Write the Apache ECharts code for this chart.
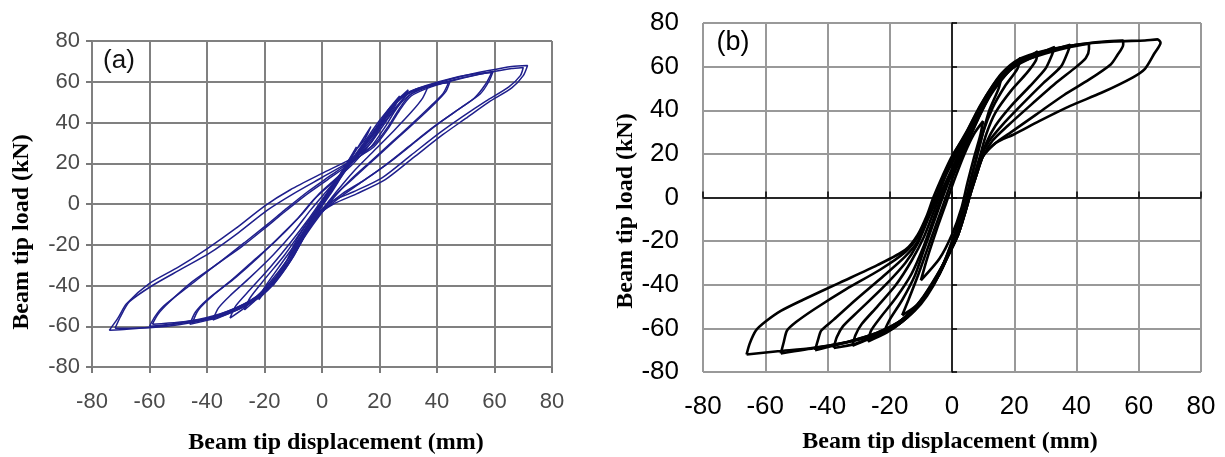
<!DOCTYPE html>
<html>
<head>
<meta charset="utf-8">
<title>Beam tip load vs displacement</title>
<script src="https://cdn.jsdelivr.net/npm/echarts@6/dist/echarts.min.js"></script>
<style>
  html, body { margin: 0; padding: 0; background: #fff; }
  #chart { width: 1225px; height: 457px; }
</style>
</head>
<body>
<div id="chart"></div>
<script>
// tick labels shared by both panels
var tickValues = [-80, -60, -40, -20, 0, 20, 40, 60, 80];

// panel (a): loops, [displacement mm, load kN]
var aLoop72 = [[-74,-62],[-71,-56],[-68,-49],[-60,-39],[-50,-31],[-40,-22],[-30,-12],[-20,-1],[-11,7],[0,15],[10,22],[18,29],[23,38],[27,47],[31,54],[38,58.5],[48,62.5],[58,65.5],[66,67.5],[71.5,68],
  [70,63],[66,57],[58,50],[50,42],[42,34],[32,23],[22,12],[12,5],[4,0],[-2,-6],[-6,-15],[-10,-25],[-15,-35],[-21,-44],[-30,-51],[-42,-57],[-57,-60],[-68,-61.5],[-74,-62]];
var aLoop72b = [[-72,-61],[-70,-55],[-67,-48],[-59,-40],[-49,-32],[-39,-24],[-29,-14],[-19,-3],[-10,5],[0,13],[10,21],[18,28],[23,37],[27,46],[31,53],[38,57.5],[48,61.5],[58,64.5],[66,66.5],[70,67],
  [69,63],[65,57.5],[57,50.5],[49,43],[41,35],[31,24],[21,13],[11,6],[3,1],[-3,-7],[-7,-17],[-11,-27],[-16,-37],[-22,-45],[-31,-52],[-43,-57.5],[-58,-60.5],[-72,-61]];
var aLoop60 = [[-60,-60],[-58,-55],[-55,-50],[-46,-40],[-37,-30],[-28,-21],[-20,-12],[-14,-5],[-6,4],[2,12],[10,20],[17,28],[22,38],[26,47],[30,53],[36,57],[46,61],[54,63.5],[59.5,65],
  [58,60],[55,54],[48,47],[40,39],[32,30],[24,21],[15,12],[7,5],[1,-2],[-4,-10],[-8,-20],[-13,-31],[-19,-41],[-27,-49],[-38,-55],[-50,-58.5],[-60,-60]];
var aLoop60b = [[-59,-59],[-57,-54],[-53,-48],[-45,-38],[-36,-29],[-27,-19],[-19,-10],[-13,-3],[-5,6],[3,14],[10,21],[17,30],[21,40],[25,48],[29,54],[36,58],[46,62],[54,64],[59,64.5],
  [57,59],[53,52],[46,45],[38,37],[30,28],[22,19],[13,10],[6,3],[0,-4],[-5,-13],[-9,-23],[-14,-33],[-20,-43],[-28,-50],[-39,-56],[-50,-58],[-59,-59]];
var aLoop45 = [[-46,-59],[-44,-53],[-40,-47],[-32,-38],[-24,-28],[-16,-18],[-9,-8],[-3,2],[4,11],[11,20],[17,30],[22,40],[26,48],[30,54],[36,57.5],[44.5,60],
  [43,55],[39,49],[33,41],[26,32],[19,23],[12,14],[5,5],[0,-3],[-5,-13],[-10,-25],[-15,-35],[-21,-44],[-28,-51],[-37,-56],[-46,-59]];
var aLoop45b = [[-45,-58],[-43,-52],[-38,-45],[-30,-36],[-22,-26],[-14,-15],[-7,-5],[-1,5],[6,14],[12,23],[18,33],[22,42],[26,50],[31,55],[38,58.5],[44,59.5],
  [42,54],[37,47],[31,39],[24,30],[17,21],[10,12],[4,3],[-1,-6],[-6,-16],[-11,-28],[-16,-38],[-22,-46],[-30,-52],[-38,-56],[-45,-58]];
var aLoop37 = [[-38,-57],[-36,-51],[-32,-45],[-25,-36],[-17,-25],[-10,-14],[-4,-3],[2,7],[8,17],[14,27],[19,37],[23,46],[27,52],[32,56],[37,58],
  [35,52],[31,45],[25,36],[18,26],[11,16],[5,6],[0,-3],[-5,-13],[-10,-26],[-15,-36],[-21,-45],[-28,-51],[-38,-57]];
var aLoop30 = [[-32,-56],[-30,-50],[-25,-42],[-18,-31],[-11,-19],[-5,-8],[0,2],[6,13],[12,24],[18,35],[23,45],[27,52],[30,56],
  [28,51],[24,44],[18,34],[11,22],[5,10],[0,0],[-4,-9],[-9,-21],[-15,-33],[-21,-43],[-27,-51],[-32,-56]];
var aLoop25 = [[-27,-52],[-25,-46],[-20,-37],[-13,-25],[-7,-13],[-2,-3],[3,8],[9,19],[15,31],[20,41],[24,48],[27,53],
  [25,47],[21,40],[15,29],[8,16],[3,5],[-2,-5],[-7,-16],[-12,-29],[-18,-39],[-23,-47],[-27,-52]];
var aLoop20 = [[-22,-47],[-20,-41],[-15,-31],[-9,-19],[-4,-8],[1,3],[7,15],[13,26],[19,38],[24,48],
  [22,43],[17,34],[10,21],[4,9],[-1,-2],[-6,-13],[-11,-25],[-16,-36],[-22,-47]];
var aLoop15 = [[-17,-40],[-15,-34],[-11,-25],[-6,-13],[-1,-2],[4,9],[9,20],[13,29],[17,38],
  [15,32],[11,25],[6,14],[1,3],[-4,-7],[-9,-18],[-13,-30],[-17,-40]];
var aLoop10 = [[-12,-30],[-10,-24],[-6,-15],[-2,-5],[3,6],[7,16],[12,28],
  [10,22],[5,11],[0,0],[-4,-10],[-8,-20],[-12,-30]];
var aLoop5 = [[-7,-18],[-5,-12],[-2,-4],[2,5],[5,11],[7,16],[5,10],[1,2],[-2,-6],[-5,-13],[-7,-18]];

// panel (b)
var bLoop66 = [[-66,-72],[-65,-67],[-63,-61],[-60,-57],[-55,-52],[-48,-47],[-36,-39],[-24,-31],[-15,-24],[-11,-17],[-8,-8],[-6,0],[-3,10],[0,19],[4,28],[8,39],[12,49],[16,57],[21,63],[29,67],[40,70],[52,71.5],[62,72],[66,72.5],
  [67,71],[65,66],[62,59],[58,55],[48,48],[38,42],[28,35],[20,29],[14,25],[10,19],[8,11],[6,2],[4,-8],[2,-17],[-1,-26],[-5,-36],[-9,-45],[-13,-52],[-18,-58],[-25,-63],[-34,-66.5],[-45,-69],[-56,-70.5],[-66,-72]];
var bLoop55 = [[-55,-71.5],[-54,-66],[-53,-61],[-50,-57],[-44,-51],[-34,-42],[-23,-33],[-15,-25],[-11,-18],[-8,-9],[-5,1],[-2,12],[1,21],[5,31],[9,42],[13,51],[17,58],[22,63],[30,67],[40,70],[49,71.5],[55,72],
  [55,70],[53,65],[51,61],[44,54],[36,47],[27,38],[19,30],[14,25],[10,19],[8,11],[6,2],[4,-8],[2,-17],[-1,-26],[-4,-35],[-8,-44],[-12,-51],[-17,-57],[-24,-62],[-33,-66],[-44,-69],[-55,-71.5]];
var bLoop44 = [[-44,-70],[-43,-65],[-42,-61],[-38,-56],[-31,-47],[-22,-36],[-15,-27],[-11,-20],[-8,-10],[-5,0],[-2,11],[1,20],[5,30],[9,41],[13,50],[17,57],[22,62],[30,66],[38,69],[44,70.5],
  [44,68],[43,64],[40,60],[33,52],[25,42],[18,33],[13,26],[10,19],[8,11],[6,2],[4,-8],[2,-17],[-1,-26],[-4,-35],[-8,-44],[-12,-51],[-17,-57],[-24,-62],[-33,-66],[-44,-70]];
var bLoop38 = [[-38,-69],[-37,-64],[-35,-59],[-30,-52],[-22,-41],[-15,-30],[-11,-21],[-8,-11],[-5,-1],[-2,10],[2,21],[6,32],[10,43],[14,52],[18,58],[24,63],[31,67],[38,70],
  [37,66],[35,60],[29,52],[22,42],[16,33],[12,26],[9,18],[7,9],[5,0],[3,-10],[1,-19],[-2,-28],[-5,-37],[-9,-46],[-13,-53],[-18,-59],[-24,-63],[-31,-67],[-38,-69]];
var bLoop33 = [[-32,-68],[-31,-63],[-29,-58],[-24,-50],[-18,-40],[-13,-29],[-9,-18],[-6,-7],[-3,4],[1,16],[5,28],[9,39],[13,49],[17,56],[22,62],[28,66],[33,69],
  [32,65],[30,59],[25,51],[19,42],[14,33],[11,25],[9,17],[7,8],[5,-2],[3,-12],[0,-22],[-3,-31],[-7,-41],[-11,-49],[-16,-56],[-21,-61],[-27,-65],[-32,-68]];
var bLoop27 = [[-27,-66],[-26,-61],[-23,-55],[-18,-46],[-13,-35],[-9,-22],[-6,-10],[-3,2],[0,13],[4,25],[8,37],[12,47],[16,55],[21,61],[27.5,67],
  [27,63],[24,57],[19,49],[14,39],[11,29],[9,19],[7,9],[5,-2],[3,-12],[0,-22],[-3,-32],[-7,-42],[-11,-50],[-16,-57],[-21,-62],[-27,-66]];
var bLoop22 = [[-22,-62],[-20,-56],[-16,-47],[-12,-36],[-9,-24],[-6,-12],[-3,0],[0,11],[4,23],[8,35],[12,46],[16,54],[22,64],
  [21,59],[17,51],[13,41],[10,30],[8,19],[6,8],[4,-3],[2,-13],[-1,-24],[-4,-35],[-8,-45],[-12,-52],[-17,-58],[-22,-62]];
var bLoop16 = [[-16,-54],[-14,-47],[-11,-36],[-8,-24],[-5,-12],[-2,0],[1,12],[5,25],[9,38],[13,49],[16,56],
  [15,50],[12,40],[10,30],[8,19],[6,8],[4,-4],[1,-16],[-2,-28],[-6,-40],[-11,-49],[-16,-54]];
var bLoop10 = [[-10,-38],[-8,-28],[-5,-15],[-2,-3],[1,9],[4,20],[7,29],[10,35],
  [9,28],[7,18],[5,7],[3,-5],[0,-17],[-4,-28],[-10,-38]];

var loopsA = [aLoop72, aLoop72b, aLoop60, aLoop60b, aLoop45, aLoop45b, aLoop37, aLoop30, aLoop25, aLoop20, aLoop15, aLoop10, aLoop5];
var loopsB = [bLoop66, bLoop55, bLoop44, bLoop38, bLoop33, bLoop27, bLoop22, bLoop16, bLoop10];

var myChart = echarts.init(document.getElementById('chart'));

var sansA = "'Liberation Sans Narrow', 'Liberation Sans', Arial, sans-serif";
var sans = "'Liberation Sans', Arial, sans-serif";
var serif = "'Liberation Serif', 'Times New Roman', serif";

var series = [];
loopsA.forEach(function (loop) {
    series.push({
        type: 'line', xAxisIndex: 0, yAxisIndex: 0,
        data: loop, showSymbol: false, smooth: 0.25,
        lineStyle: { color: '#1f1f8c', width: 1.5 },
        silent: true, animation: false
    });
});
loopsB.forEach(function (loop) {
    series.push({
        type: 'line', xAxisIndex: 1, yAxisIndex: 1,
        data: loop, showSymbol: false, smooth: 0.25,
        lineStyle: { color: '#000', width: 2.6 },
        silent: true, animation: false
    });
});

function valueAxis(grid, extra) {
    var ax = {
        type: 'value', gridIndex: grid, min: -80, max: 80, interval: 20
    };
    for (var k in extra) ax[k] = extra[k];
    return ax;
}

var option = {
    backgroundColor: '#fff',
    animation: false,
    grid: [
        { left: 92, top: 41, width: 460, height: 326 },
        { left: 703, top: 23, width: 498, height: 349 }
    ],
    xAxis: [
        valueAxis(0, {
            axisLine: { show: false, onZero: false },
            axisTick: { show: true, length: 6, lineStyle: { color: '#7a7a7a', width: 2 } },
            axisLabel: { margin: 24, fontSize: 22, color: '#4a4a4a', fontFamily: sansA },
            splitLine: { lineStyle: { color: '#808080', width: 2 } }
        }),
        valueAxis(1, {
            axisLine: { show: false, onZero: false },
            axisTick: { show: false },
            axisLabel: { margin: 22, fontSize: 26, color: '#000', fontFamily: sans },
            splitLine: { lineStyle: { color: '#999', width: 2 } }
        }),
        // zero line with ticks in panel (b)
        valueAxis(1, {
            axisLine: { show: true, onZero: true, lineStyle: { color: '#000', width: 1.5 } },
            axisTick: { show: true, length: 6, lineStyle: { color: '#000', width: 1.5 } },
            axisLabel: { show: false },
            splitLine: { show: false }
        })
    ],
    yAxis: [
        valueAxis(0, {
            axisLine: { show: false, onZero: false },
            axisTick: { show: true, length: 6, lineStyle: { color: '#7a7a7a', width: 2 } },
            axisLabel: { margin: 12, fontSize: 22, color: '#4a4a4a', fontFamily: sansA },
            splitLine: { lineStyle: { color: '#808080', width: 2 } }
        }),
        valueAxis(1, {
            axisLine: { show: false, onZero: false },
            axisTick: { show: false },
            axisLabel: { margin: 24, fontSize: 26, color: '#000', fontFamily: sans },
            splitLine: { lineStyle: { color: '#999', width: 2 } }
        }),
        valueAxis(1, {
            axisLine: { show: true, onZero: true, lineStyle: { color: '#000', width: 1.5 } },
            axisTick: { show: true, length: 5, lineStyle: { color: '#000', width: 1.5 } },
            axisLabel: { show: false },
            splitLine: { show: false }
        })
    ],
    graphic: [
        { type: 'text', x: 119, y: 61, style: { text: '(a)', font: '26px ' + sans, fill: '#111', textAlign: 'center', textVerticalAlign: 'middle' } },
        { type: 'text', x: 733, y: 43, style: { text: '(b)', font: '27px ' + sans, fill: '#000', textAlign: 'center', textVerticalAlign: 'middle' } },
        { type: 'text', x: 336, y: 443, style: { text: 'Beam tip displacement (mm)', font: 'bold 24px ' + serif, fill: '#000', textAlign: 'center', textVerticalAlign: 'middle' } },
        { type: 'text', x: 22, y: 232, rotation: Math.PI / 2, style: { text: 'Beam tip load (kN)', font: 'bold 24px ' + serif, fill: '#000', textAlign: 'center', textVerticalAlign: 'middle' } },
        { type: 'text', x: 950, y: 442, style: { text: 'Beam tip displacement (mm)', font: 'bold 24px ' + serif, fill: '#000', textAlign: 'center', textVerticalAlign: 'middle' } },
        { type: 'text', x: 626, y: 211, rotation: Math.PI / 2, style: { text: 'Beam tip load (kN)', font: 'bold 24px ' + serif, fill: '#000', textAlign: 'center', textVerticalAlign: 'middle' } }
    ],
    series: series
};

myChart.setOption(option);
</script>
</body>
</html>
